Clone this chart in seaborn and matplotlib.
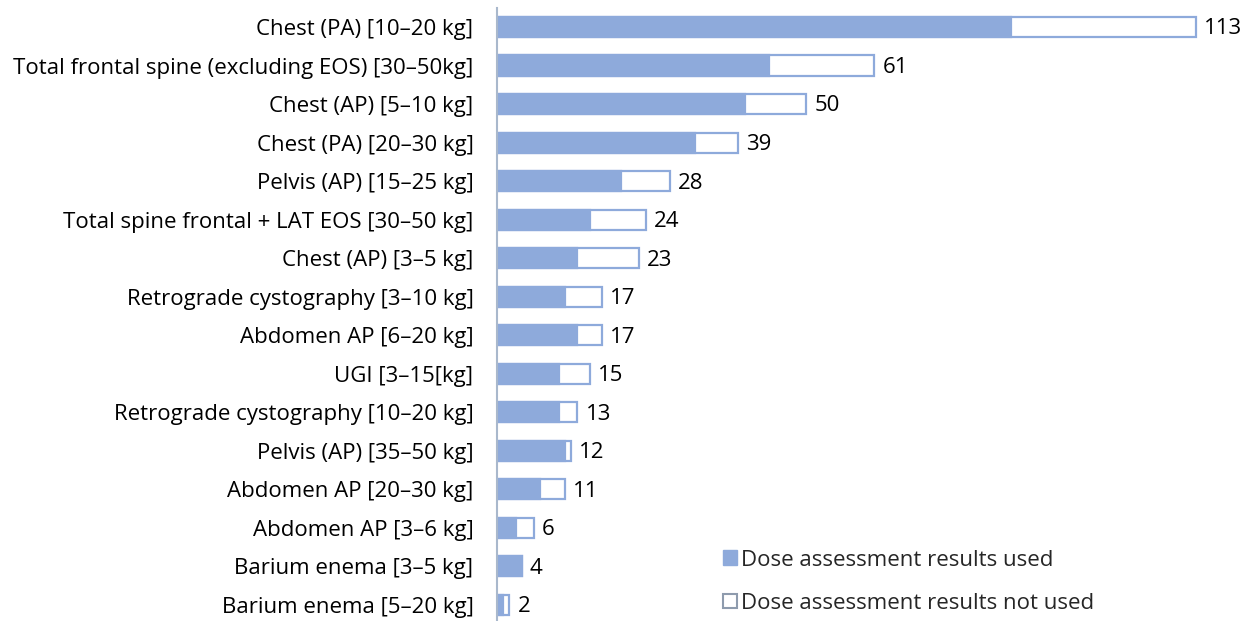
import matplotlib
matplotlib.use("Agg")
import matplotlib.pyplot as plt
import seaborn as sns
import pandas as pd
from matplotlib.patches import Patch

categories = [
    "Chest (PA) [10–20 kg]",
    "Total frontal spine (excluding EOS) [30–50kg]",
    "Chest (AP) [5–10 kg]",
    "Chest (PA) [20–30 kg]",
    "Pelvis (AP) [15–25 kg]",
    "Total spine frontal + LAT EOS [30–50 kg]",
    "Chest (AP) [3–5 kg]",
    "Retrograde cystography [3–10 kg]",
    "Abdomen AP [6–20 kg]",
    "UGI [3–15[kg]",
    "Retrograde cystography [10–20 kg]",
    "Pelvis (AP) [35–50 kg]",
    "Abdomen AP [20–30 kg]",
    "Abdomen AP [3–6 kg]",
    "Barium enema [3–5 kg]",
    "Barium enema [5–20 kg]",
]
total = [113, 61, 50, 39, 28, 24, 23, 17, 17, 15, 13, 12, 11, 6, 4, 2]
used = [83, 44, 40, 32, 20, 15, 13, 11, 13, 10, 10, 11, 7, 3, 4, 1]
legend_labels = ["Dose assessment results used", "Dose assessment results not used"]

df = pd.DataFrame({"category": categories, "total": total, "used": used})

sns.set_theme(style="white")
plt.rcParams["font.family"] = ["Open Sans", "DejaVu Sans"]

blue = "#8EAADB"
edge = "#8EAADB"
fs = 16

fig = plt.figure(figsize=(12.5, 6.21), dpi=100)
ax = fig.add_axes([0.3976, 0.0, 0.594, 0.9876])

sns.barplot(data=df, x="total", y="category", orient="h", color="white",
            edgecolor=edge, linewidth=1.6, width=0.52, ax=ax, order=categories)
sns.barplot(data=df, x="used", y="category", orient="h", color=blue,
            edgecolor=blue, linewidth=1.6, width=0.52, ax=ax, order=categories,
            saturation=1)

for i, v in enumerate(total):
    ax.text(v + 1.3, i + 0.05, str(v), va="center", ha="left", fontsize=fs, color="black")

ax.set_xlim(0, 120)
ax.set_ylim(15.415, -0.5)
ax.set_xlabel("")
ax.set_ylabel("")
ax.set_xticks([])
ax.tick_params(axis="y", length=0, pad=17, labelsize=fs, labelcolor="black")
for s in ["top", "right", "bottom"]:
    ax.spines[s].set_visible(False)
ax.spines["left"].set_color("#A9B8CC")
ax.spines["left"].set_linewidth(1.5)

handles = [Patch(facecolor=blue, edgecolor=blue, label=legend_labels[0]),
           Patch(facecolor="white", edgecolor="#8E9BAD", linewidth=1.5, label=legend_labels[1])]
fig.legend(handles=handles, loc="upper left", bbox_to_anchor=(0.578, 0.115),
           frameon=False, fontsize=fs, handlelength=0.65, handleheight=0.65,
           handletextpad=0.2, labelspacing=1.0, borderpad=0, borderaxespad=0)

fig.savefig("out.png", dpi=100)
